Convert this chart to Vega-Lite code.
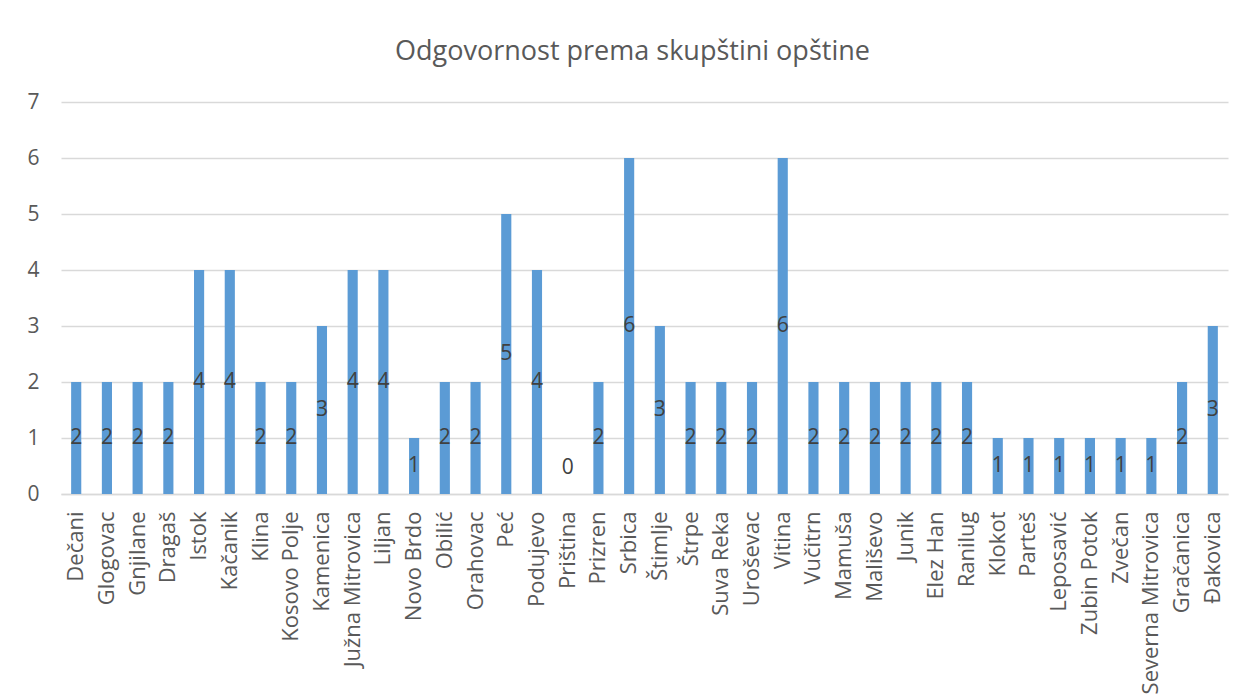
{
  "$schema": "https://vega.github.io/schema/vega-lite/v6.json",
  "autosize": "none",
  "width": 1167,
  "height": 392,
  "padding": {"left": 61, "top": 102, "right": 18, "bottom": 203},
  "background": "white",
  "title": {
    "text": "Odgovornost prema skupštini opštine",
    "font": "Open Sans",
    "fontSize": 27,
    "fontWeight": "normal",
    "color": "#595959",
    "anchor": "middle",
    "dx": -12,
    "offset": 25
  },
  "data": {
    "values": [
      {"opstina": "Dečani", "value": 2},
      {"opstina": "Glogovac", "value": 2},
      {"opstina": "Gnjilane", "value": 2},
      {"opstina": "Dragaš", "value": 2},
      {"opstina": "Istok", "value": 4},
      {"opstina": "Kačanik", "value": 4},
      {"opstina": "Klina", "value": 2},
      {"opstina": "Kosovo Polje", "value": 2},
      {"opstina": "Kamenica", "value": 3},
      {"opstina": "Južna Mitrovica", "value": 4},
      {"opstina": "Liljan", "value": 4},
      {"opstina": "Novo Brdo", "value": 1},
      {"opstina": "Obilić", "value": 2},
      {"opstina": "Orahovac", "value": 2},
      {"opstina": "Peć", "value": 5},
      {"opstina": "Podujevo", "value": 4},
      {"opstina": "Priština", "value": 0},
      {"opstina": "Prizren", "value": 2},
      {"opstina": "Srbica", "value": 6},
      {"opstina": "Štimlje", "value": 3},
      {"opstina": "Štrpe", "value": 2},
      {"opstina": "Suva Reka", "value": 2},
      {"opstina": "Uroševac", "value": 2},
      {"opstina": "Vitina", "value": 6},
      {"opstina": "Vučitrn", "value": 2},
      {"opstina": "Mamuša", "value": 2},
      {"opstina": "Mališevo", "value": 2},
      {"opstina": "Junik", "value": 2},
      {"opstina": "Elez Han", "value": 2},
      {"opstina": "Ranilug", "value": 2},
      {"opstina": "Klokot", "value": 1},
      {"opstina": "Parteš", "value": 1},
      {"opstina": "Leposavić", "value": 1},
      {"opstina": "Zubin Potok", "value": 1},
      {"opstina": "Zvečan", "value": 1},
      {"opstina": "Severna Mitrovica", "value": 1},
      {"opstina": "Gračanica", "value": 2},
      {"opstina": "Đakovica", "value": 3}
    ]
  },
  "transform": [
    {"calculate": "max(datum.value / 2, 0.47)", "as": "labelPos"}
  ],
  "encoding": {
    "x": {
      "field": "opstina",
      "type": "nominal",
      "sort": null,
      "scale": {"paddingInner": 0.67, "paddingOuter": 0.33},
      "axis": {
        "title": null,
        "labelAngle": -90,
        "labelFont": "Open Sans",
        "labelFontSize": 22,
        "labelColor": "#595959",
        "labelPadding": 17,
        "ticks": false,
        "domainColor": "#d9d9d9",
        "domainWidth": 1.5,
        "labelLimit": 300
      }
    }
  },
  "layer": [
    {
      "mark": {"type": "bar", "color": "#5b9bd5"},
      "encoding": {
        "y": {
          "field": "value",
          "type": "quantitative",
          "scale": {"domain": [0, 7], "nice": false},
          "axis": {
            "title": null,
            "values": [0, 1, 2, 3, 4, 5, 6, 7],
            "format": "d",
            "labelFont": "Open Sans",
            "labelFontSize": 21,
            "labelColor": "#595959",
            "labelPadding": 22,
            "ticks": false,
            "domain": false,
            "gridColor": "#d9d9d9",
            "gridWidth": 1.5
          }
        }
      }
    },
    {
      "mark": {
        "type": "text",
        "font": "Open Sans",
        "fontSize": 21,
        "color": "#404040",
        "baseline": "middle",
        "align": "center"
      },
      "encoding": {
        "y": {"field": "labelPos", "type": "quantitative"},
        "text": {"field": "value", "type": "quantitative"}
      }
    }
  ],
  "config": {"view": {"stroke": null}}
}
